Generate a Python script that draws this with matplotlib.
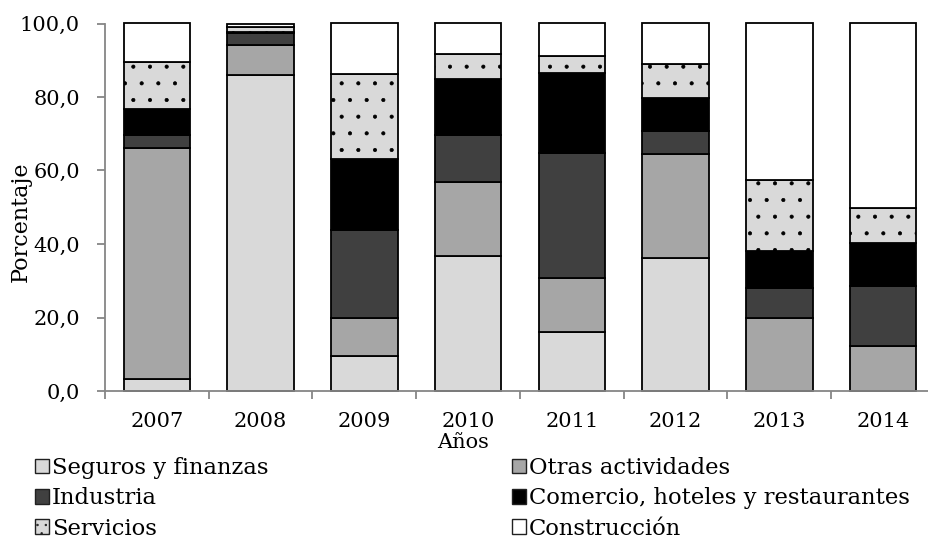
import matplotlib
matplotlib.use('Agg')
import matplotlib.pyplot as plt
from matplotlib.patches import Patch

plt.rcParams['font.family'] = 'DejaVu Serif'
plt.rcParams['hatch.linewidth'] = 0.5

years = ['2007', '2008', '2009', '2010', '2011', '2012', '2013', '2014']
sectors = ['Seguros y finanzas', 'Otras actividades', 'Industria',
           'Comercio, hoteles y restaurantes', 'Servicios', 'Construcción']

seguros = [3.2, 86.1, 9.6, 36.7, 16.1, 36.3, 0.0, 0.0]
otras = [62.8, 8.1, 10.4, 20.1, 14.7, 28.1, 20.0, 12.3]
industria = [3.7, 3.3, 23.7, 12.9, 33.9, 6.4, 8.0, 16.3]
comercio = [7.0, 0.3, 19.5, 15.1, 21.8, 9.0, 10.1, 11.6]
servicios = [12.8, 1.2, 23.1, 6.9, 4.7, 9.1, 19.3, 9.5]
construccion = [10.5, 1.0, 13.7, 8.3, 8.8, 11.1, 42.6, 50.3]

series = [seguros, otras, industria, comercio, servicios, construccion]
fills = ['#d9d9d9', '#a6a6a6', '#404040', '#000000', '#d9d9d9', '#ffffff']
hatches = [None, None, None, None, '.', None]

W, H = 929, 538
fig = plt.figure(figsize=(W / 100, H / 100), dpi=100)
# plot area runs a little past the right edge, as in the original
ax = fig.add_axes([105 / W, (H - 391) / H, (935 - 105) / W, (391 - 23.5) / H])

x = list(range(len(years)))
bottom = [0.0] * len(years)
for vals, fc, ht in zip(series, fills, hatches):
    bars = ax.bar(x, vals, 0.64, bottom=bottom, color=fc, edgecolor='black',
                  linewidth=1.3, hatch=ht, zorder=2)
    for b in bars:
        b.set_clip_on(False)
    bottom = [b + v for b, v in zip(bottom, vals)]

ax.set_xlim(-0.5, len(years) - 0.5)
ax.set_ylim(0, 100)
ax.set_yticks([0, 20, 40, 60, 80, 100])
ax.set_yticklabels(['0,0', '20,0', '40,0', '60,0', '80,0', '100,0'])
ax.set_xticks([i - 0.5 for i in range(len(years) + 1)])
ax.set_xticklabels([])
ax.set_xticks(x, minor=True)
ax.set_xticklabels(years, minor=True)

for s in ['top', 'right']:
    ax.spines[s].set_visible(False)
for s in ['left', 'bottom']:
    ax.spines[s].set_color('#868686')
    ax.spines[s].set_linewidth(1.3)

ax.tick_params(axis='y', which='major', direction='out', length=6, width=1.3,
               color='#868686', labelsize=15, pad=12)
ax.tick_params(axis='x', which='major', direction='out', length=6, width=1.3,
               color='#868686')
ax.tick_params(axis='x', which='minor', length=0, labelsize=15, pad=15)

fig.text(21 / W, 1 - 222 / H, 'Porcentaje', rotation=90, fontsize=16,
         ha='center', va='center')
fig.text(463 / W, 1 - 443 / H, 'Años', fontsize=15, ha='center', va='center')

# legend swatches are small, so the dot pattern needs to be denser to show
leg_hatches = [None, None, None, None, '..', None]
handles = [Patch(facecolor=fc, edgecolor='#202020', linewidth=1.0, hatch=ht)
           for fc, ht in zip(fills, leg_hatches)]
leg_kw = dict(loc='upper left', frameon=False, fontsize=16.3,
              handlelength=0.62, handleheight=0.62, handletextpad=0.12,
              labelspacing=0.37, borderpad=0, borderaxespad=0)
# two columns, filled row by row as in the original
for cols, x0 in [([0, 2, 4], 35), ([1, 3, 5], 512)]:
    fig.legend([handles[i] for i in cols], [sectors[i] for i in cols],
               bbox_to_anchor=(x0 / W, 1 - 457 / H), **leg_kw)

fig.savefig('out.png', dpi=100)
